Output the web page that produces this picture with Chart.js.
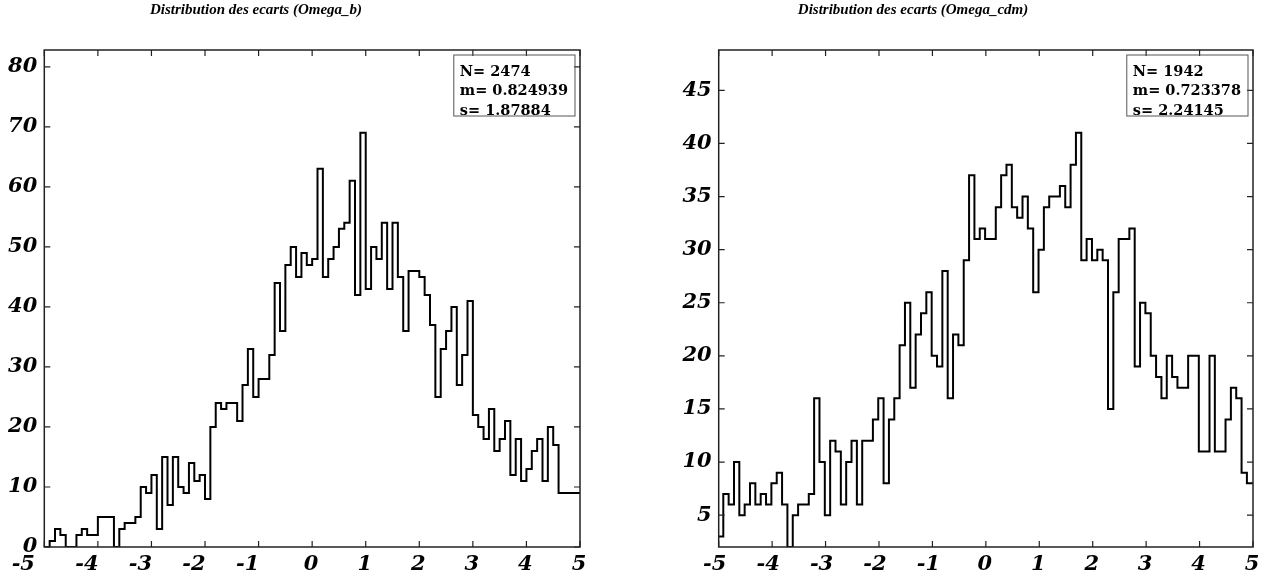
<!DOCTYPE html>
<html>
<head>
<meta charset="utf-8">
<script src="https://cdn.jsdelivr.net/npm/chart.js@4.4.1/dist/chart.umd.min.js"></script>
<style>
  html, body { margin: 0; padding: 0; background: #fff; }
  #wrap { position: relative; width: 1267px; height: 581px; }
  canvas { position: absolute; top: 0; }
</style>
</head>
<body>
<div id="wrap">
  <canvas id="chartB" width="633" height="581" style="left:0"></canvas>
  <canvas id="chartCdm" width="634" height="581" style="left:633px"></canvas>
</div>
<script>
// histogram settings (x axis runs -5..5, bins of 0.1)
const xMin = -5;
const xMax = 5;
const binWidth = 0.1;

// Omega_b
const bTitle = "Distribution des ecarts (Omega_b)";
const bBinStart = -5;
const bCounts = [
  0, 1, 3, 2, 0, 0, 2, 3, 2, 2,
  5, 5, 5, 0, 3, 4, 4, 5, 10, 9,
  12, 3, 15, 7, 15, 10, 9, 14, 11, 12,
  8, 20, 24, 23, 24, 24, 21, 27, 33, 25,
  28, 28, 32, 44, 36, 47, 50, 45, 49, 47,
  48, 63, 45, 48, 50, 53, 54, 61, 42, 69,
  43, 50, 48, 54, 43, 54, 45, 36, 46, 46,
  45, 42, 37, 25, 33, 36, 40, 27, 32, 41,
  22, 20, 18, 23, 16, 18, 21, 12, 18, 11,
  13, 16, 18, 11, 20, 17, 9, 9, 9, 9
];
const bStats = ["N= 2474", "m= 0.824939", "s= 1.87884"];

// Omega_cdm
const cdmTitle = "Distribution des ecarts (Omega_cdm)";
const cdmBinStart = -5.014;
const cdmCounts = [
  3, 7, 6, 10, 5, 6, 8, 6, 7, 6,
  8, 9, 6, 2, 5, 6, 6, 7, 16, 10,
  5, 12, 11, 6, 10, 12, 6, 12, 12, 14,
  16, 8, 14, 16, 21, 25, 17, 22, 24, 26,
  20, 19, 28, 16, 22, 21, 29, 37, 31, 32,
  31, 31, 34, 37, 38, 34, 33, 35, 32, 26,
  30, 34, 35, 35, 36, 34, 38, 41, 29, 31,
  29, 30, 29, 15, 26, 31, 31, 32, 19, 25,
  24, 20, 18, 16, 20, 18, 17, 17, 20, 20,
  11, 11, 20, 11, 11, 14, 17, 16, 9, 8
];
const cdmStats = ["N= 1942", "m= 0.723378", "s= 2.24145"];

const times = '"Liberation Serif", "Times New Roman", serif';
const wide = '"DejaVu Serif", serif';

function stepPoints(counts, start) {
  const pts = counts.map((c, i) => ({ x: Math.max(xMin, start + binWidth * i), y: c }));
  pts.push({ x: xMax, y: counts[counts.length - 1] });
  return pts;
}

// frame, inward ticks, x labels, title and stats box
const decor = {
  id: "decor",
  afterDatasetsDraw(chart, args, opts) {
    const { ctx, chartArea: a, scales } = chart;
    const sx = scales.x, sy = scales.y;
    ctx.save();
    ctx.strokeStyle = "#222";
    ctx.lineWidth = 1.5;
    ctx.strokeRect(a.left, a.top, a.right - a.left, a.bottom - a.top);

    ctx.lineWidth = 1.2;
    ctx.beginPath();
    sx.ticks.forEach(t => {
      const px = sx.getPixelForValue(t.value);
      ctx.moveTo(px, a.bottom); ctx.lineTo(px, a.bottom - 6);
      ctx.moveTo(px, a.top); ctx.lineTo(px, a.top + 6);
    });
    sy.ticks.forEach(t => {
      const py = sy.getPixelForValue(t.value);
      ctx.moveTo(a.left, py); ctx.lineTo(a.left + 6, py);
      ctx.moveTo(a.right, py); ctx.lineTo(a.right - 6, py);
    });
    ctx.stroke();

    ctx.fillStyle = "#000";
    ctx.font = "italic bold 21px " + wide;
    ctx.textAlign = "center";
    ctx.textBaseline = "middle";
    sx.ticks.forEach((t, i) => {
      const px = sx.getPixelForValue(t.value);
      let dx = t.value < 0 ? opts.negShift : -1;
      if (i === 0) dx = opts.firstShift;
      ctx.fillText(String(t.value), px + dx, a.bottom + 18);
    });

    ctx.font = "italic bold 15px " + times;
    ctx.fillText(opts.title, opts.titleX, 10);

    ctx.font = "bold 14.5px " + wide;
    const w = Math.max(...opts.stats.map(s => ctx.measureText(s).width)) + 13;
    const bx = a.right - 5 - w, by = a.top + 5;
    ctx.strokeStyle = "#555";
    ctx.lineWidth = 1;
    ctx.strokeRect(bx, by, w, 61);
    ctx.textAlign = "left";
    ctx.textBaseline = "alphabetic";
    opts.stats.forEach((s, i) => ctx.fillText(s, bx + 6, by + 20.5 + i * 19.5));
    ctx.restore();
  }
};

function makeChart(id, counts, start, stats, title, titleX, axisWidth, padRight, negShift, firstShift) {
  const lo = Math.min(...counts);
  const hi = Math.max(...counts);
  return new Chart(document.getElementById(id), {
    type: "line",
    data: {
      datasets: [{
        data: stepPoints(counts, start),
        stepped: true,
        borderColor: "#000",
        borderWidth: 2,
        pointRadius: 0,
        fill: false
      }]
    },
    options: {
      responsive: false,
      animation: false,
      layout: { padding: { top: 50, right: padRight, left: 0, bottom: 0 } },
      scales: {
        x: {
          type: "linear",
          min: xMin,
          max: xMax,
          ticks: { display: false, stepSize: 1 },
          grid: { display: false, drawTicks: false },
          border: { display: false },
          afterFit(scale) { scale.height = 34; }
        },
        y: {
          min: lo,
          max: lo + 1.2 * (hi - lo),
          ticks: {
            stepSize: lo > 0 ? 5 : 10,
            includeBounds: false,
            padding: 7,
            color: "#000",
            font: { family: wide, size: 21, style: "italic", weight: "bold" }
          },
          grid: { display: false, drawTicks: false },
          border: { display: false },
          afterFit(scale) { scale.width = axisWidth; }
        }
      },
      plugins: {
        legend: { display: false },
        tooltip: { enabled: false },
        decor: { title: title, titleX: titleX, stats: stats, negShift: negShift, firstShift: firstShift }
      }
    },
    plugins: [decor]
  });
}

makeChart("chartB", bCounts, bBinStart, bStats, bTitle, 256, 44.3, 53, -11, -21);
makeChart("chartCdm", cdmCounts, cdmBinStart, cdmStats, cdmTitle, 280, 85.7, 14, -4, -4);
</script>
</body>
</html>
